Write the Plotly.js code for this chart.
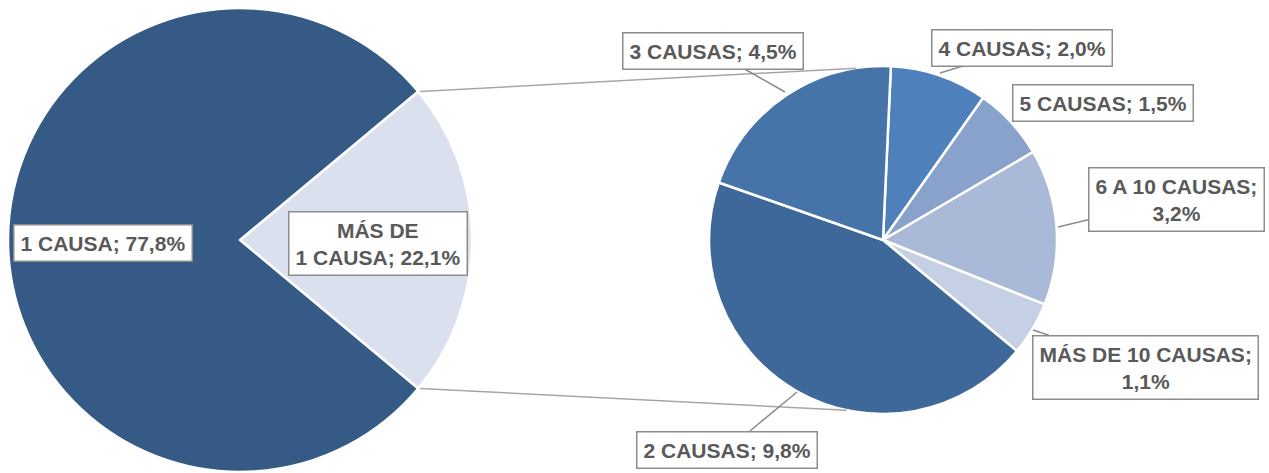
<!DOCTYPE html>
<html><head><meta charset="utf-8">
<script src="https://cdn.plot.ly/plotly-3.0.1.min.js"></script>
<style>html,body{margin:0;padding:0;background:#fff}#c{width:1269px;height:473px}</style>
</head><body><div id="c"></div>
<script>
// Data
const mainLabels = ["MÁS DE 1 CAUSA", "1 CAUSA"];
const mainValues = [22.1, 77.8];
const mainText = ["MÁS DE<br>1 CAUSA; 22,1%", "1 CAUSA; 77,8%"];
const subLabels = ["4 CAUSAS", "5 CAUSAS", "6 A 10 CAUSAS", "MÁS DE 10 CAUSAS", "2 CAUSAS", "3 CAUSAS"];
const subValues = [2.0, 1.5, 3.2, 1.1, 9.8, 4.5];
const subText = ["4 CAUSAS; 2,0%", "5 CAUSAS; 1,5%", "6 A 10 CAUSAS;<br>3,2%", "MÁS DE 10 CAUSAS;<br>1,1%", "2 CAUSAS; 9,8%", "3 CAUSAS; 4,5%"];

const W = 1269, H = 473;
const mainColors = ["#DAE0EE", "#355A86"];
const subColors = ["#4E80BC", "#88A2CB", "#A9B9D7", "#C6D0E4", "#3E6899", "#4674A9"];

// geometry (pixels)
const c1 = {x: 240, y: 240, r: 232};
const c2 = {x: 883, y: 240, r: 174};
function dom(c){ return {x:[(c.x-c.r)/W,(c.x+c.r)/W], y:[1-(c.y+c.r)/H, 1-(c.y-c.r)/H]}; }

const totalMain = mainValues.reduce((a,b)=>a+b,0);
const halfAng = mainValues[0]/totalMain*Math.PI;
const rot1 = 90 - halfAng*180/Math.PI;

const font = {family: "Liberation Sans, Arial, sans-serif", size: 21, color: "#595959"};

const data = [
  {type:"pie", labels: mainLabels, values: mainValues, sort:false, direction:"clockwise", rotation: rot1,
   domain: dom(c1), marker:{colors: mainColors, line:{color:"#fff", width:2.5}}, textinfo:"none", hoverinfo:"label+percent", showlegend:false},
  {type:"pie", labels: subLabels, values: subValues, sort:false, direction:"clockwise", rotation: 2.6,
   domain: dom(c2), marker:{colors: subColors, line:{color:"#fff", width:2.5}}, textinfo:"none", hoverinfo:"label+value", showlegend:false}
];

// series lines
const p1t = {x: c1.x + c1.r*Math.cos(halfAng)+2, y: c1.y - c1.r*Math.sin(halfAng)};
const p1b = {x: c1.x + c1.r*Math.cos(halfAng)+2, y: c1.y + c1.r*Math.sin(halfAng)};
const a2t = 9*Math.PI/180, a2b = 12*Math.PI/180;
const p2t = {x: c2.x - c2.r*Math.sin(a2t), y: c2.y - c2.r*Math.cos(a2t)};
const p2b = {x: c2.x - c2.r*Math.sin(a2b), y: c2.y + c2.r*Math.cos(a2b)};
const px = v=>v/W, py = v=>1-v/H;
const shapes = [
  {type:"line", xref:"paper", yref:"paper", x0:px(p1t.x), y0:py(p1t.y), x1:px(p2t.x), y1:py(p2t.y), line:{color:"#A6A6A6", width:1.5}},
  {type:"line", xref:"paper", yref:"paper", x0:px(p1b.x), y0:py(p1b.y), x1:px(p2b.x), y1:py(p2b.y), line:{color:"#A6A6A6", width:1.5}}
];

// label boxes: [text, boxCenterX, boxCenterY, targetX, targetY]
const boxes = [
  [mainText[1], 103, 243, null, null],
  [mainText[0], 378, 243, null, null],
  [subText[5], 713, 51, 785, 92],
  [subText[0], 1022, 48, 940, 73],
  [subText[1], 1103, 103, 1012, 121],
  [subText[2], 1176, 199, 1058, 227],
  [subText[3], 1145, 367, 1033, 330],
  [subText[4], 727, 450, 797, 392]
];
const annotations = boxes.map(b => {
  const a = {text: "<b>" + b[0].split("<br>").join("</b><br><b>") + "</b>", font: font, bgcolor:"#fff", bordercolor:"#8C8C8C", borderwidth:1.5, borderpad:6,
             xref:"paper", yref:"paper", align:"center"};
  if (b[3] === null) { a.x = px(b[1]); a.y = py(b[2]); a.showarrow = false; a.xanchor = "center"; a.yanchor = "middle"; }
  else { a.x = px(b[3]); a.y = py(b[4]); a.showarrow = true; a.arrowhead = 0; a.arrowwidth = 1.5; a.arrowcolor = "#8C8C8C";
         a.axref = "pixel"; a.ayref = "pixel"; a.ax = b[1]-b[3]; a.ay = b[2]-b[4]; a.standoff = 0; }
  return a;
});

Plotly.newPlot("c", data, {width: W, height: H, margin:{l:0,r:0,t:0,b:0}, paper_bgcolor:"#fff", shapes, annotations}, {displayModeBar:false, staticPlot:true});
</script></body></html>
